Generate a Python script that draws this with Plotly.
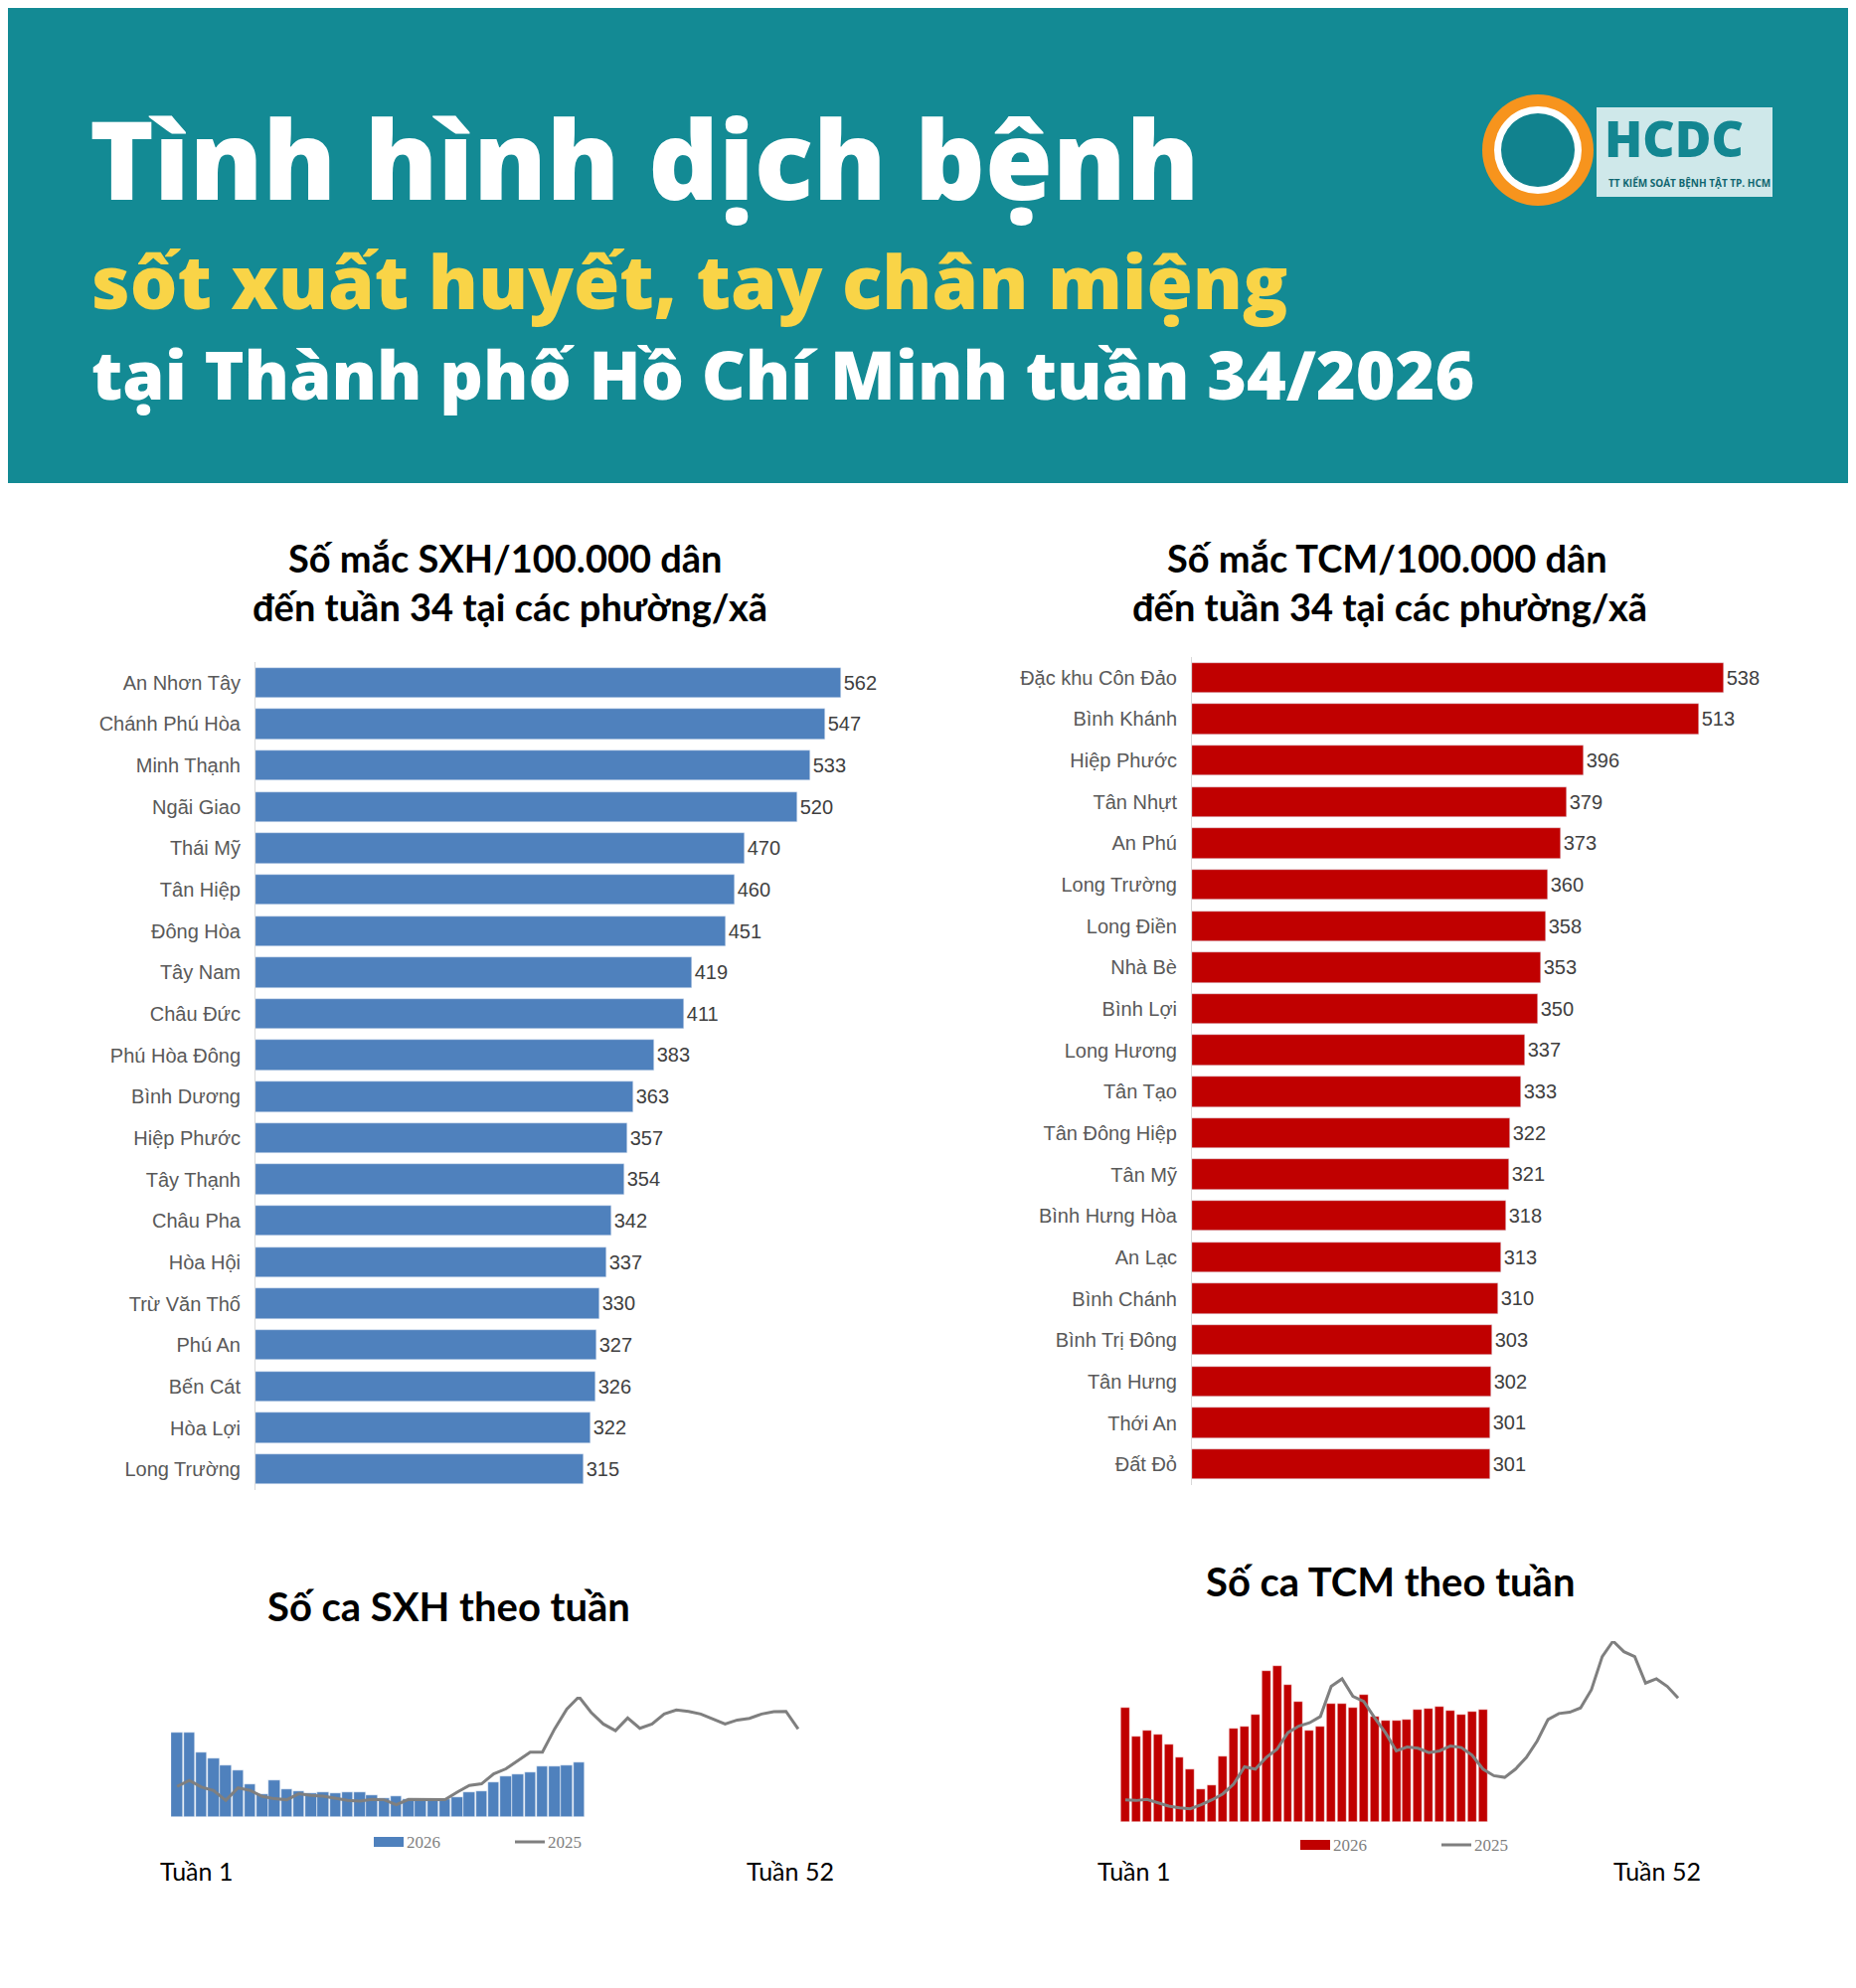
import plotly.graph_objects as go

W, H = 1867, 2000

# --- data ---
sxh_wards = ['An Nhơn Tây', 'Chánh Phú Hòa', 'Minh Thạnh', 'Ngãi Giao', 'Thái Mỹ', 'Tân Hiệp', 'Đông Hòa',
             'Tây Nam', 'Châu Đức', 'Phú Hòa Đông', 'Bình Dương', 'Hiệp Phước', 'Tây Thạnh', 'Châu Pha',
             'Hòa Hội', 'Trừ Văn Thố', 'Phú An', 'Bến Cát', 'Hòa Lợi', 'Long Trường']
sxh_rates = [562, 547, 533, 520, 470, 460, 451, 419, 411, 383, 363, 357, 354, 342, 337, 330, 327, 326, 322, 315]

tcm_wards = ['Đặc khu Côn Đảo', 'Bình Khánh', 'Hiệp Phước', 'Tân Nhựt', 'An Phú', 'Long Trường', 'Long Điền',
             'Nhà Bè', 'Bình Lợi', 'Long Hương', 'Tân Tạo', 'Tân Đông Hiệp', 'Tân Mỹ', 'Bình Hưng Hòa',
             'An Lạc', 'Bình Chánh', 'Bình Trị Đông', 'Tân Hưng', 'Thới An', 'Đất Đỏ']
tcm_rates = [538, 513, 396, 379, 373, 360, 358, 353, 350, 337, 333, 322, 321, 318, 313, 310, 303, 302, 301, 301]

weeks_2026 = list(range(1, 35))
weeks_2025 = list(range(1, 53))
# weekly counts (relative units)
sxh_2026 = [255, 253, 194, 177, 156, 140, 99, 70, 110, 83, 77, 71, 75, 73, 75, 75, 67, 57, 64, 55, 55, 55,
            55, 59, 75, 79, 105, 123, 129, 135, 154, 152, 155, 164]
sxh_2025 = [92, 110, 90, 80, 50, 88, 80, 62, 55, 52, 70, 65, 63, 57, 50, 48, 53, 52, 37, 53, 53, 53, 52, 75,
            95, 100, 130, 145, 170, 195, 195, 265, 325, 362, 315, 280, 260, 298, 267, 280, 310, 322, 318, 310,
            295, 280, 292, 297, 310, 317, 318, 265]
tcm_2026 = [347, 258, 278, 266, 234, 194, 159, 99, 111, 198, 282, 290, 324, 458, 472, 416, 364, 276, 290,
            359, 359, 346, 386, 319, 308, 308, 310, 340, 343, 350, 338, 324, 335, 340]
tcm_2025 = [67, 65, 68, 58, 48, 43, 40, 52, 67, 85, 115, 167, 160, 195, 220, 270, 290, 300, 319, 410, 433,
            380, 365, 315, 270, 215, 227, 223, 210, 215, 230, 225, 202, 160, 140, 135, 160, 195, 245, 310,
            328, 332, 345, 400, 500, 547, 515, 500, 420, 433, 410, 375]

BLUE = '#4f81bd'
RED = '#c00000'
GRAY = '#7f7f7f'
TEAL = '#138a94'


def px(x0, x1):
    return [x0 / W, x1 / W]


def py(y_top, y_bot):
    return [1 - y_bot / H, 1 - y_top / H]


fig = go.Figure()

# horizontal bar charts
fig.add_trace(go.Bar(x=sxh_rates, y=sxh_wards, orientation='h', marker_color=BLUE, width=0.73,
                     text=sxh_rates, textposition='outside', cliponaxis=False,
                     textfont=dict(size=20, color='#404040', family='Liberation Sans'),
                     xaxis='x', yaxis='y', showlegend=False))
fig.add_trace(go.Bar(x=tcm_rates, y=tcm_wards, orientation='h', marker_color=RED, width=0.73,
                     text=tcm_rates, textposition='outside', cliponaxis=False,
                     textfont=dict(size=20, color='#404040', family='Liberation Sans'),
                     xaxis='x2', yaxis='y2', showlegend=False))

# weekly charts
fig.add_trace(go.Bar(x=weeks_2026, y=sxh_2026, marker=dict(color=BLUE, line=dict(color='white', width=0.5)),
                     width=0.92, xaxis='x3', yaxis='y3', showlegend=False))
fig.add_trace(go.Scatter(x=weeks_2025, y=sxh_2025, mode='lines', line=dict(color=GRAY, width=3),
                         xaxis='x3', yaxis='y3', showlegend=False))
fig.add_trace(go.Bar(x=weeks_2026, y=tcm_2026, marker=dict(color=RED, line=dict(color='white', width=0.5)),
                     width=0.82, xaxis='x4', yaxis='y4', showlegend=False))
fig.add_trace(go.Scatter(x=weeks_2025, y=tcm_2025, mode='lines', line=dict(color=GRAY, width=3),
                         xaxis='x4', yaxis='y4', showlegend=False))

label_font = dict(size=20, color='#595959', family='Liberation Sans')
n = len(sxh_wards)
hide = dict(showgrid=False, zeroline=False, showticklabels=False, ticks='')

fig.update_layout(
    width=W, height=H, margin=dict(l=0, r=0, t=0, b=0),
    paper_bgcolor='white', plot_bgcolor='white', bargap=0,
    xaxis=dict(domain=px(249, 930), range=[0, 650], **hide),
    yaxis=dict(domain=py(658, 1491), range=[n - 0.5, -0.5], anchor='x', showline=True,
               linecolor='#d9d9d9', ticks='', tickfont=label_font, ticklabelstandoff=10),
    xaxis2=dict(domain=px(1191, 1800), range=[0, 612], anchor='y2', **hide),
    yaxis2=dict(domain=py(653, 1486), range=[n - 0.5, -0.5], anchor='x2', showline=True,
                linecolor='#d9d9d9', ticks='', tickfont=label_font, ticklabelstandoff=10),
    xaxis3=dict(domain=px(164, 801), range=[0.5, 52.5], anchor='y3', **hide),
    yaxis3=dict(domain=py(1699, 1820), range=[0, 362], anchor='x3', **hide),
    xaxis4=dict(domain=px(1118.5, 1685.5), range=[0.5, 52.5], anchor='y4', **hide),
    yaxis4=dict(domain=py(1643, 1825), range=[0, 547], anchor='x4', **hide),
)

shapes = [dict(type='rect', xref='paper', yref='paper', x0=0, x1=1, y0=1 - 478 / H, y1=1,
               fillcolor=TEAL, line_width=0, layer='below')]
# logo
shapes.append(dict(type='rect', xref='paper', yref='paper', x0=1598 / W, x1=1775 / W,
                   y0=1 - 190 / H, y1=1 - 100 / H, fillcolor='white', opacity=0.8, line_width=0))
for r, c in [(56, '#f7941d'), (44, 'white'), (37, '#11828e')]:
    shapes.append(dict(type='circle', xref='paper', yref='paper', x0=(1539 - r) / W, x1=(1539 + r) / W,
                       y0=1 - (143 + r) / H, y1=1 - (143 - r) / H, fillcolor=c, line_width=0))

ann = []


def text(x, y, s, size, color='black', family='Lato', anchor='center', weight='bold'):
    ann.append(dict(x=x / W, y=1 - y / H, xref='paper', yref='paper', text=s, showarrow=False,
                    xanchor=anchor, yanchor='middle',
                    font=dict(size=size, color=color, family=family, weight=weight)))


text(80, 150, 'Tình hình dịch bệnh', 110, 'white', family='Open Sans', anchor='left', weight=800)
text(82, 274, 'sốt xuất huyết, tay chân miệng', 75, '#f9d447', family='Open Sans', anchor='left', weight=800)
text(82, 367, 'tại Thành phố Hồ Chí Minh tuần 34/2026', 68, 'white', family='Open Sans', anchor='left',
     weight=800)
text(1604, 131, 'HCDC', 50, '#138691', family='Open Sans', anchor='left', weight=800)
text(1608, 176, 'TT KIỂM SOÁT BỆNH TẬT TP. HCM', 10, '#0f6670', family='Open Sans', anchor='left')

text(500, 553, 'Số mắc SXH/100.000 dân', 38)
text(505, 602, 'đến tuần 34 tại các phường/xã', 38)
text(1387, 553, 'Số mắc TCM/100.000 dân', 38)
text(1390, 602, 'đến tuần 34 tại các phường/xã', 38)

text(443, 1608, 'Số ca SXH theo tuần', 40)
text(1390, 1583, 'Số ca TCM theo tuần', 40)
text(189, 1874, 'Tuần 1', 25, weight='normal', family='Lato')
text(787, 1874, 'Tuần 52', 25, weight='normal', family='Lato')
text(1132, 1874, 'Tuần 1', 25, weight='normal', family='Lato')
text(1659, 1874, 'Tuần 52', 25, weight='normal', family='Lato')

# mini legends
for (bx, by, col) in [(368, 1845, BLUE), (1300, 1848, RED)]:
    shapes.append(dict(type='rect', xref='paper', yref='paper', x0=bx / W, x1=(bx + 30) / W,
                       y0=1 - (by + 5) / H, y1=1 - (by - 5) / H, fillcolor=col, line_width=0))
    text(bx + 31, by, '2026', 17, GRAY, family='Liberation Serif', anchor='left', weight='normal')
    shapes.append(dict(type='line', xref='paper', yref='paper', x0=(bx + 142) / W, x1=(bx + 172) / W,
                       y0=1 - by / H, y1=1 - by / H, line=dict(color=GRAY, width=3)))
    text(bx + 173, by, '2025', 17, GRAY, family='Liberation Serif', anchor='left', weight='normal')

fig.update_layout(shapes=shapes, annotations=ann)
fig.write_html('out.html')
